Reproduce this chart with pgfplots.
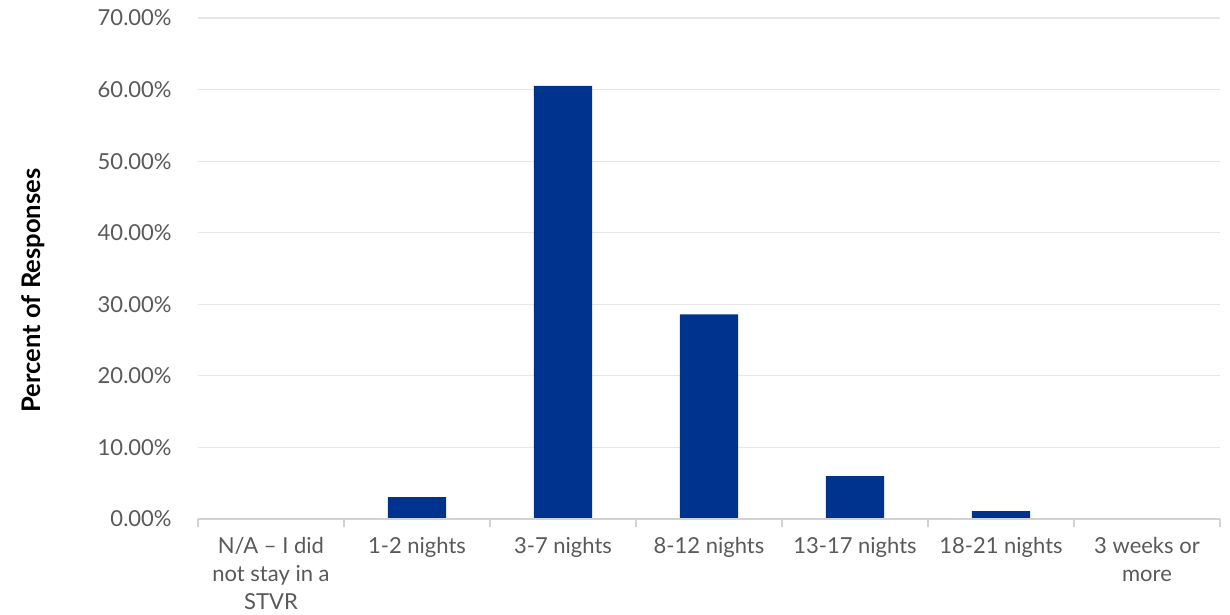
\documentclass[border=0pt]{standalone}
\usepackage{pgfplots}
\pgfplotsset{compat=1.18}
\usepackage{fontspec}
\setmainfont{Lato}
\definecolor{barblue}{RGB}{0,51,141}
\definecolor{lblgray}{RGB}{89,89,89}
\definecolor{gridgray}{RGB}{230,230,230}
\definecolor{axgray}{RGB}{210,210,210}
\begin{document}
\begin{tikzpicture}
\begin{axis}[
  scale only axis,
  width=511pt, height=250.5pt,
  xmin=-0.5, xmax=6.5,
  ymin=0, ymax=70,
  axis lines*=left,
  axis line style={draw=none},
  ytick={0,10,20,30,40,50,60,70},
  yticklabels={0.00\%,10.00\%,20.00\%,30.00\%,40.00\%,50.00\%,60.00\%,70.00\%},
  ymajorgrids,
  major grid style={gridgray, line width=0.6pt},
  major tick length=0pt,
  xtick={0,1,2,3,4,5,6},
  xticklabels={{N/A -- I did\\not stay in a\\STVR},{1-2 nights},{3-7 nights},{8-12 nights},{13-17 nights},{18-21 nights},{3 weeks or\\more}},
  minor xtick={-0.5,0.5,1.5,2.5,3.5,4.5,5.5,6.5},
  minor tick length=4pt,
  tick align=outside,
  minor x tick style={draw=axgray, line width=0.6pt},
  xticklabel style={font=\fontsize{11}{14}\selectfont, text=lblgray, align=center, inner sep=0pt, yshift=-9pt, anchor=north},
  yticklabel style={font=\fontsize{11}{12}\selectfont, text=lblgray, inner sep=0pt, xshift=-13pt, anchor=east},
  ylabel={Percent of Responses},
  ylabel style={font=\fontsize{12.8}{14}\selectfont\bfseries, text=black, at={(axis description cs:-0.1614,0.456)}, anchor=center},
  bar width=0.4,
  clip=false,
]
\addplot[ybar, fill=barblue, draw=none] coordinates {
  (0,0) (1,3.05) (2,60.5) (3,28.6) (4,6.0) (5,1.1) (6,0)
};
\end{axis}
\draw[axgray, line width=0.6pt] (current axis.south west) -- (current axis.south east);
\path[use as bounding box] ([xshift=-99pt,yshift=-48pt]current axis.south west) rectangle ([xshift=5pt,yshift=9pt]current axis.north east);
\end{tikzpicture}
\end{document}
